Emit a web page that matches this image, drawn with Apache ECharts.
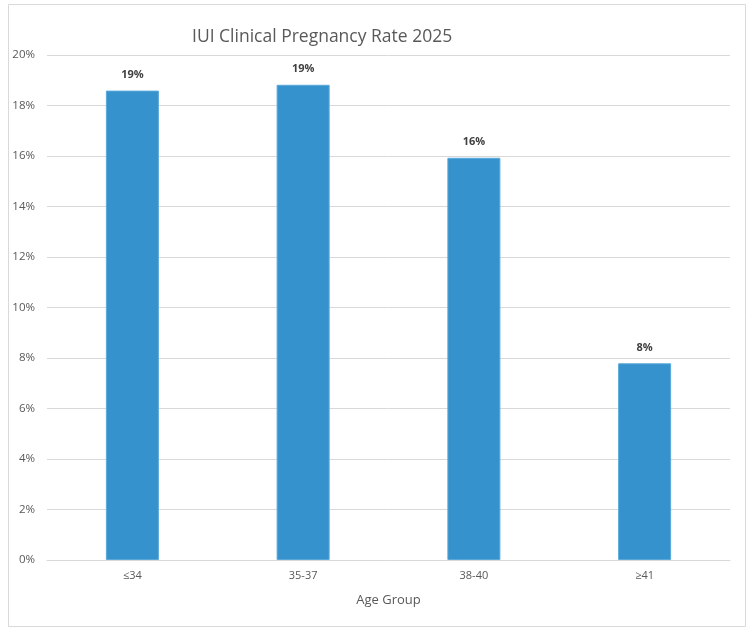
<!DOCTYPE html>
<html><head><meta charset="utf-8">
<script src="https://cdn.jsdelivr.net/npm/echarts@6/dist/echarts.min.js"></script>
<style>html,body{margin:0;padding:0;background:#fff}#c{width:750px;height:628px}</style>
</head><body><div id="c"></div>
<script>
var categories = ['≤34', '35-37', '38-40', '≥41'];
var rates = [18.59, 18.82, 15.93, 7.79];
var labels = ['19%', '19%', '16%', '8%'];
var titleText = 'IUI Clinical Pregnancy Rate 2025';
var xName = 'Age Group';

var chart = echarts.init(document.getElementById('c'), null, {renderer: 'canvas'});
chart.setOption({
  animation: false,
  graphic: [{
    type: 'rect', left: 6, top: 2, silent: true,
    shape: {width: 737, height: 622},
    style: {fill: 'none', stroke: '#d9d9d9', lineWidth: 1}
  }],
  title: {
    text: titleText, left: 187, top: 23,
    textStyle: {fontFamily: 'Open Sans', fontSize: 17.5, fontWeight: 'normal', color: '#595959'}
  },
  grid: {left: 47, right: 20, top: 55, bottom: 68, containLabel: false},
  xAxis: {
    type: 'category', data: categories,
    name: xName, nameLocation: 'middle', nameGap: 34,
    nameTextStyle: {fontFamily: 'Open Sans', fontSize: 13, color: '#595959'},
    axisLine: {lineStyle: {color: '#d9d9d9'}},
    axisTick: {show: false},
    axisLabel: {fontFamily: 'Open Sans', fontSize: 11, color: '#595959', margin: 10}
  },
  yAxis: {
    type: 'value', min: 0, max: 20, interval: 2,
    axisLine: {show: false}, axisTick: {show: false},
    splitLine: {lineStyle: {color: '#d9d9d9'}},
    axisLabel: {formatter: '{value}%', fontFamily: 'Open Sans', fontSize: 11.5, color: '#595959', margin: 12}
  },
  series: [{
    type: 'bar', data: rates, barWidth: 53,
    itemStyle: {color: '#3592cc', borderColor: '#5aa8da', borderWidth: 1},
    label: {
      show: true, position: 'top', distance: 10,
      formatter: function (p) { return labels[p.dataIndex]; },
      fontFamily: 'Open Sans', fontSize: 11, fontWeight: 'bold', color: '#404040'
    }
  }]
});
</script></body></html>
